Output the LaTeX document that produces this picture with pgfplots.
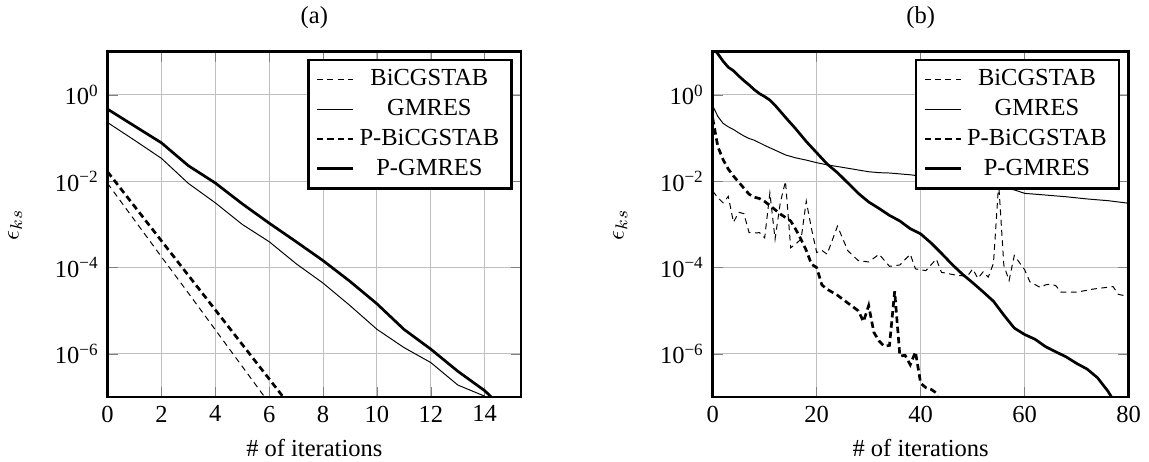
\documentclass[border=0pt]{standalone}
\usepackage{pgfplots}
\pgfplotsset{compat=1.18}
\usepackage{fontspec}
\setmainfont{Liberation Serif}

\tikzset{
  bicg/.style={black, thin, dash pattern=on 2.4pt off 1.8pt},
  gmres/.style={black, thin},
  pbicg/.style={black, line width=1.1pt, dash pattern=on 2.6pt off 1.6pt},
  pgmres/.style={black, line width=1.1pt},
}

\begin{document}
\begin{tikzpicture}
\begin{axis}[
  scale only axis, at={(43.9pt,26.1pt)}, anchor=south west,
  width=168.8pt, height=141pt,
  xmin=0, xmax=15.35, xtick={0,2,...,14},
  ymode=log, ymin=1e-7, ymax=10,
  ytick={1e-6,1e-4,1e-2,1},
  yticklabels={10\textsuperscript{−6},10\textsuperscript{−4},10\textsuperscript{−2},10\textsuperscript{0}},
  yminorticks=false,
  grid=major,
  axis line style={line width=1.1pt},
  xlabel={\# of iterations},
  ylabel={$\epsilon_{ks}$}, ylabel shift=6.5pt,
  /pgf/number format/assume math mode=true,
  title={(a)},
  legend cell align=center,
  legend style={draw=black, line width=1.1pt},
  legend image code/.code={\draw[mark repeat=2,mark phase=2] plot coordinates {(0cm,0cm) (0.26cm,0cm) (0.52cm,0cm)};},
]
\addplot[bicg] table {
0 8.91e-3
1 1.26e-3
2 1.78e-4
3 2.57e-5
4 3.63e-6
5 5.13e-7
6 7.24e-8
};
\addplot[gmres] table {
0 0.229
1 0.0891
2 0.0339
3 8.91e-3
4 3.16e-3
5 1.0e-3
6 3.98e-4
7 1.23e-4
8 4.37e-5
9 1.32e-5
10 3.72e-6
11 1.41e-6
12 6.31e-7
13 1.91e-7
14 1.05e-7
15 5.0e-8
};
\addplot[pbicg] table {
0 0.0166
1 2.63e-3
2 4.17e-4
3 6.61e-5
4 1.05e-5
5 1.66e-6
6 2.63e-7
7 4.17e-8
};
\addplot[pgmres] table {
0 0.468
1 0.19
2 0.0776
3 0.0229
4 9.1e-3
5 3.0e-3
6 1.07e-3
7 3.98e-4
8 1.45e-4
9 4.79e-5
10 1.45e-5
11 3.72e-6
12 1.29e-6
13 3.98e-7
14 1.41e-7
15 3.55e-8
};
\legend{BiCGSTAB, GMRES, P-BiCGSTAB, P-GMRES}
\end{axis}

\begin{axis}[
  scale only axis, at={(290.9pt,26.1pt)}, anchor=south west,
  width=169.8pt, height=141pt,
  xmin=0, xmax=80, xtick={0,20,...,80},
  ymode=log, ymin=1e-7, ymax=10,
  ytick={1e-6,1e-4,1e-2,1},
  yticklabels={10\textsuperscript{−6},10\textsuperscript{−4},10\textsuperscript{−2},10\textsuperscript{0}},
  yminorticks=false,
  grid=major,
  axis line style={line width=1.1pt},
  xlabel={\# of iterations},
  ylabel={$\epsilon_{ks}$}, ylabel shift=6.5pt,
  /pgf/number format/assume math mode=true,
  title={(b)},
  legend cell align=center,
  legend style={draw=black, line width=1.1pt},
  legend image code/.code={\draw[mark repeat=2,mark phase=2] plot coordinates {(0cm,0cm) (0.26cm,0cm) (0.52cm,0cm)};},
]
\addplot[bicg] table {
0 5.89e-3
1 4.17e-3
2 3.16e-3
3 4.47e-3
4 1.12e-3
5 1.91e-3
6 1.78e-3
7 6.46e-4
8 6.31e-4
9 6.46e-4
10 4.90e-4
11 5.37e-3
12 4.57e-4
13 3.16e-3
14 1.0e-2
15 2.88e-4
16 3.55e-4
17 4.57e-4
18 3.47e-3
19 7.94e-4
20 2.24e-4
21 2.51e-4
22 2.04e-4
24 9.12e-4
26 2.45e-4
28 1.45e-4
30 1.35e-4
32 2.04e-4
34 1.07e-4
36 1.15e-4
38 2.04e-4
39 9.33e-5
41 8.51e-5
43 1.58e-4
44 7.76e-5
47 6.61e-5
49 6.31e-5
50 9.33e-5
51 5.62e-5
52 7.94e-5
53 6.03e-5
54 1.26e-4
55 8.91e-3
56 1.12e-4
57 5.01e-5
58 1.91e-4
60 8.91e-5
61 4.68e-5
63 3.47e-5
64 3.98e-5
65 4.17e-5
66 3.80e-5
67 2.69e-5
70 2.69e-5
73 3.16e-5
75 3.39e-5
77 3.63e-5
78 2.40e-5
80 2.14e-5
};
\addplot[gmres] table {
0 0.562
1 0.316
2 0.219
3 0.182
4 0.158
5 0.132
6 0.112
7 0.0977
8 0.0891
10 0.0676
12 0.0525
14 0.0407
16 0.0347
18 0.0309
20 0.0269
22 0.0240
24 0.0219
26 0.0200
28 0.0182
30 0.0166
32 0.0158
34 0.0155
36 0.0148
38 0.0141
40 0.0132
44 0.0115
48 0.0100
52 8.32e-3
55 7.08e-3
58 6.31e-3
60 5.25e-3
64 4.79e-3
68 4.37e-3
72 3.89e-3
76 3.55e-3
80 3.09e-3
};
\addplot[pbicg] table {
0 0.288
1 0.0631
2 0.0316
3 0.0191
4 0.0132
5 9.55e-3
6 6.92e-3
7 5.01e-3
8 4.27e-3
9 3.98e-3
10 3.39e-3
11 2.75e-3
12 2.19e-3
13 1.74e-3
14 1.45e-3
15 1.20e-3
16 7.59e-4
17 4.47e-4
18 2.51e-4
19 1.20e-4
20 1.0e-4
21 3.98e-5
22 3.16e-5
24 2.29e-5
26 1.51e-5
28 1.0e-5
29 5.62e-6
30 1.32e-5
31 3.16e-6
32 2.0e-6
33 1.51e-6
34 1.58e-6
35 2.82e-5
36 8.91e-7
37 9.33e-7
38 5.62e-7
39 1.12e-6
40 2.09e-7
41 1.66e-7
42 1.51e-7
43 1.26e-7
44 3.98e-8
};
\addplot[pgmres] table {
0 12.6
1 8.91
2 6.03
3 4.37
4 3.63
5 2.75
6 2.14
7 1.70
8 1.32
9 1.07
10 0.912
11 0.759
12 0.575
14 0.302
16 0.162
18 0.0832
20 0.0457
22 0.0251
24 0.0158
26 9.12e-3
28 5.25e-3
30 3.31e-3
32 2.34e-3
34 1.62e-3
36 1.20e-3
38 7.94e-4
40 6.03e-4
42 3.72e-4
44 2.14e-4
46 1.20e-4
48 7.08e-5
50 4.47e-5
52 2.75e-5
54 1.66e-5
56 7.94e-6
58 3.98e-6
60 2.82e-6
62 2.19e-6
64 1.48e-6
66 1.12e-6
68 8.51e-7
70 6.03e-7
72 4.47e-7
74 2.82e-7
76 1.38e-7
78 5.62e-8
};
\legend{BiCGSTAB, GMRES, P-BiCGSTAB, P-GMRES}
\end{axis}
\pgfresetboundingbox
\path (0,0) rectangle (469pt,188.2pt);
\end{tikzpicture}
\end{document}
